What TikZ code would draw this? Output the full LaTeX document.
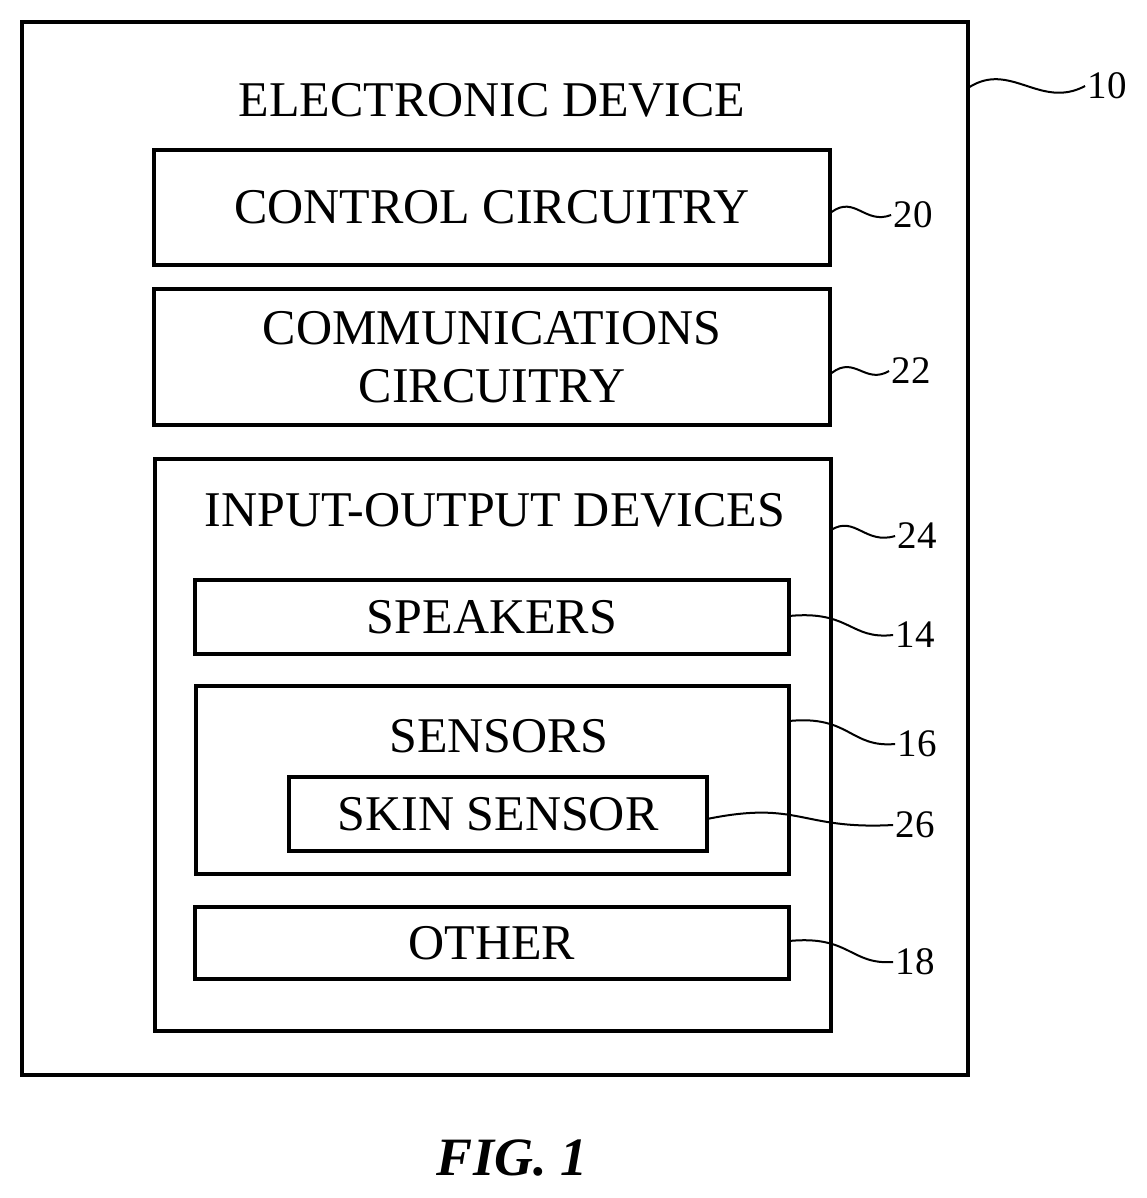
\documentclass[tikz,border=0pt]{standalone}
\usepackage{fontspec}
\setmainfont{Liberation Serif}
\begin{document}
\begin{tikzpicture}[x=0.5pt,y=-0.5pt,
  box/.style={draw,line width=1.6pt,inner sep=0pt},
  lbl/.style={font=\fontsize{25}{29}\selectfont},
  num/.style={font=\fontsize{19.5}{22}\selectfont,inner sep=1pt},
  lead/.style={line width=1pt}]
\useasboundingbox (0,0) rectangle (1146,1198);
\node[box,minimum width=473pt,minimum height=526.5pt] (dev) at (495,548.5) {};
\node[lbl] (devt) at (492,100) {ELECTRONIC DEVICE};
\node[box,minimum width=338pt,minimum height=57.5pt,lbl] (ctl) at (492,207.5) {CONTROL CIRCUITRY};
\node[box,minimum width=338pt,minimum height=68pt,lbl,align=center] (com) at (492,357) {COMMUNICATIONS\\[0pt]CIRCUITRY};
\node[box,minimum width=338pt,minimum height=286pt] (io) at (493,745) {};
\node[lbl] (iot) at (495,510) {INPUT-OUTPUT DEVICES};
\node[box,minimum width=297pt,minimum height=37pt,lbl] (spk) at (492,617) {SPEAKERS};
\node[box,minimum width=296.5pt,minimum height=94pt] (sen) at (492.5,780) {};
\node[lbl] (sent) at (499,736) {SENSORS};
\node[box,minimum width=209pt,minimum height=37pt,lbl] (skin) at (498,814) {SKIN SENSOR};
\node[box,minimum width=297pt,minimum height=36pt,lbl] (oth) at (492,943) {OTHER};
\node[num] (n10) at (1107,86) {10};
\node[num] (n20) at (913,215) {20};
\node[num] (n22) at (911,371) {22};
\node[num] (n24) at (917,536) {24};
\node[num] (n14) at (915,635) {14};
\node[num] (n16) at (917,744) {16};
\node[num] (n26) at (915,825) {26};
\node[num] (n18) at (915,962) {18};
\node[font=\bfseries\itshape\fontsize{27}{32}\selectfont] (fig) at (512,1158) {FIG. 1};
\coordinate (a10) at (968,88);
\draw[lead] (a10) .. controls (1010,60) and (1040,110) .. (n10.west);
\draw[lead] (ctl.east|-0,212) .. controls (855,195) and (865,225) .. (n20.west);
\draw[lead] (com.east|-0,373) .. controls (855,355) and (865,385) .. (n22.west);
\draw[lead] (831,530) .. controls (855,515) and (865,545) .. (n24.west);
\draw[lead] (789,616) .. controls (850,610) and (850,640) .. (n14.west);
\draw[lead] (789,721) .. controls (850,715) and (850,748) .. (n16.west);
\draw[lead] (707,819) .. controls (800,800) and (800,830) .. (n26.west);
\draw[lead] (789,941) .. controls (850,935) and (850,965) .. (n18.west);
\end{tikzpicture}
\end{document}
